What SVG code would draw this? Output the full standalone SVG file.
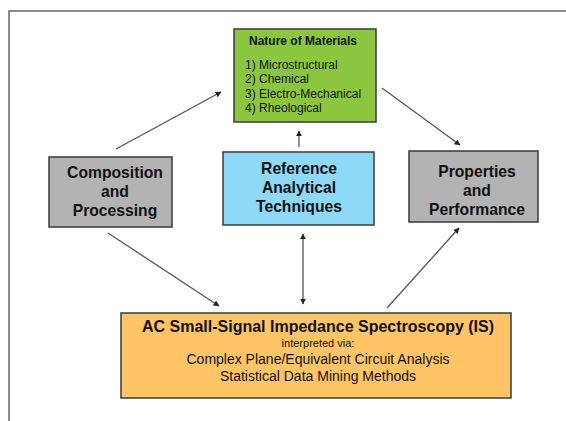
<svg xmlns="http://www.w3.org/2000/svg" width="566" height="421" viewBox="0 0 566 421">
  <defs>
    <marker id="arrow" viewBox="0 0 10 10" refX="9" refY="5" markerWidth="6" markerHeight="6" markerUnits="userSpaceOnUse" orient="auto-start-reverse">
      <path d="M0,0 L10,5 L0,10 z" fill="#222"/>
    </marker>
    <style>
      text { font-family: "Liberation Sans", Arial, sans-serif; fill: #111; }
      .box { stroke: #3a3a3a; stroke-width: 1.5; }
      .big { font-size: 15.7px; font-weight: bold; text-anchor: middle; }
      .conn { stroke: #555; stroke-width: 1.3; fill: none; marker-end: url(#arrow); }
    </style>
  </defs>
  <rect width="566" height="421" fill="#fff"/>
  <!-- page frame -->
  <path d="M9,421 V11 H566" fill="none" stroke="#666" stroke-width="1.5"/>

  <g id="nature">
    <rect class="box" x="234" y="29" width="142" height="93" fill="#8cc63f"/>
    <text x="303" y="45" font-size="12" font-weight="bold" text-anchor="middle">Nature of Materials</text>
    <text x="245" y="69" font-size="12">1) Microstructural</text>
    <text x="245" y="83" font-size="12">2) Chemical</text>
    <text x="245" y="98" font-size="12">3) Electro-Mechanical</text>
    <text x="245" y="112" font-size="12">4) Rheological</text>
  </g>

  <g id="composition">
    <rect class="box" x="49" y="157" width="123" height="70" fill="#b3b3b3"/>
    <text class="big" x="115" y="178">Composition</text>
    <text class="big" x="115" y="197">and</text>
    <text class="big" x="115" y="216">Processing</text>
  </g>

  <g id="reference">
    <rect class="box" x="223" y="152" width="151" height="73" fill="#8ed8f8"/>
    <text class="big" x="299" y="174">Reference</text>
    <text class="big" x="299" y="193">Analytical</text>
    <text class="big" x="299" y="212">Techniques</text>
  </g>

  <g id="properties">
    <rect class="box" x="409" y="151" width="129" height="71" fill="#b3b3b3"/>
    <text class="big" x="477" y="177">Properties</text>
    <text class="big" x="477" y="196">and</text>
    <text class="big" x="477" y="215">Performance</text>
  </g>

  <g id="impedance">
    <rect class="box" x="121" y="313" width="390" height="85" fill="#ffc466"/>
    <text x="318" y="332" font-size="16" font-weight="bold" text-anchor="middle">AC Small-Signal Impedance Spectroscopy (IS)</text>
    <text x="318" y="347" font-size="11" text-anchor="middle">interpreted via:</text>
    <text x="318" y="364" font-size="14" text-anchor="middle">Complex Plane/Equivalent Circuit Analysis</text>
    <text x="318" y="381" font-size="14" text-anchor="middle">Statistical Data Mining Methods</text>
  </g>

  <g id="connectors">
    <line class="conn" x1="116" y1="149" x2="221" y2="92"/>
    <line class="conn" x1="382" y1="88" x2="460" y2="145"/>
    <line class="conn" x1="299" y1="147" x2="299" y2="131"/>
    <line class="conn" x1="108" y1="233" x2="219" y2="306"/>
    <line class="conn" x1="303" y1="234" x2="303" y2="304" marker-start="url(#arrow)"/>
    <line class="conn" x1="387" y1="308" x2="459" y2="228"/>
  </g>
</svg>
